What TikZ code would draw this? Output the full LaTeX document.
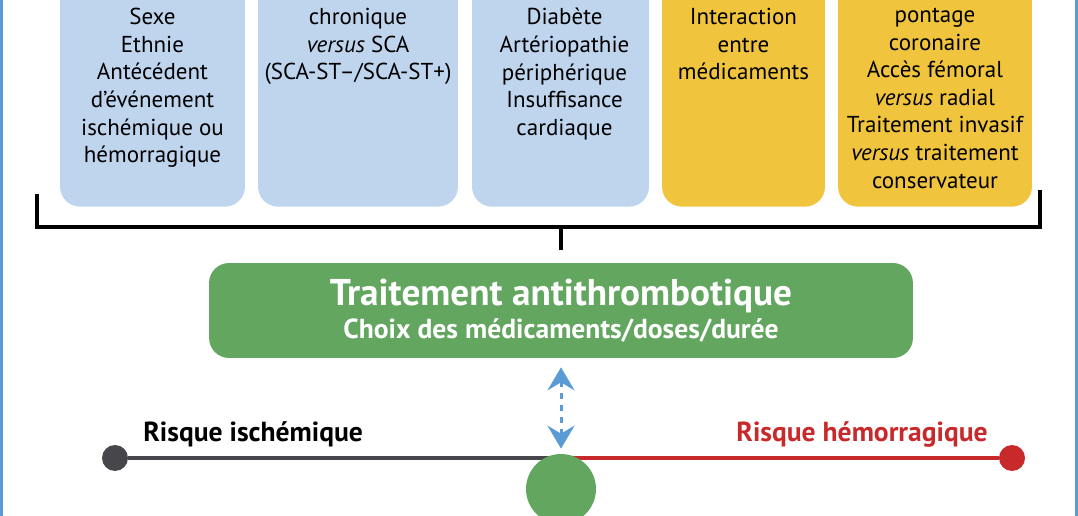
\documentclass[tikz,border=0pt]{standalone}
\usepackage{fontspec}
\setmainfont{PT Sans}
\usetikzlibrary{arrows.meta, positioning, calc, backgrounds}
\definecolor{FactBlue}{HTML}{BFD5EE}
\definecolor{FactGold}{HTML}{F0C43C}
\definecolor{TreatGreen}{HTML}{62A65F}
\definecolor{RiskRed}{HTML}{C8292B}
\definecolor{RiskGray}{HTML}{46464B}
\definecolor{FrameBlue}{HTML}{5B9BD5}

\begin{document}
\begin{tikzpicture}[x=0.02cm, y=-0.02cm,
  factor/.style={rounded corners=0.4cm, minimum height=5.4cm, anchor=south, inner sep=0pt},
  factortext/.style={anchor=north, align=center, inner sep=0pt, font=\fontsize{13.1}{15.7}\selectfont},
  bracket/.style={black, line width=0.07cm},
  riskdot/.style={circle, minimum size=0.52cm, inner sep=0pt},
  risklabel/.style={font=\fontsize{15.7}{18}\selectfont\bfseries, inner sep=0pt}]

  % --- GEOMETRIC VARIABLES ---
  \def\BoxBottom{207}
  \def\TextTop{8}
  \def\RiskY{458}

  \clip (0,0) rectangle (1078,516);
  % Outer frame (only its sides show)
  \draw[FrameBlue, line width=0.06cm] (1.5,-20) rectangle (1076.5,540);
  \coordinate (texttop) at (0,\TextTop);

  % =====================================================================
  % 1. FACTOR BOXES
  % =====================================================================
  \node[factor, fill=FactBlue, minimum width=3.7cm] (patient) at (152.5,\BoxBottom) {};
  \node[factor, fill=FactBlue, minimum width=4cm] (disease) at (358,\BoxBottom) {};
  \node[factor, fill=FactBlue, minimum width=3.54cm] (comorb) at (560.5,\BoxBottom) {};
  \node[factor, fill=FactGold, minimum width=3.26cm] (drugs) at (743.5,\BoxBottom) {};
  \node[factor, fill=FactGold, minimum width=3.88cm] (proc) at (935,\BoxBottom) {};

  \node[factortext] (patienttext) at (patient.north |- texttop)
    {Sexe\\Ethnie\\Antécédent\\d’événement\\ischémique ou\\hémorragique};
  \node[factortext] (diseasetext) at (disease.north |- texttop)
    {chronique\\\textit{versus} SCA\\(SCA-ST–/SCA-ST+)};
  \node[factortext] (comorbtext) at ([xshift=0.08cm]comorb.north |- texttop)
    {Diabète\\Artériopathie\\périphérique\\Insuffisance\\cardiaque};
  \node[factortext] (drugstext) at (drugs.north |- texttop)
    {Interaction\\entre\\médicaments};
  \node[factortext] (proctext) at (proc.north |- texttop)
    {pontage\\coronaire\\Accès fémoral\\\textit{versus} radial\\Traitement invasif\\\textit{versus} traitement\\conservateur};

  % Bracket gathering the factors
  \draw[bracket] (37,194) -- (37,227) -- (1040,227) -- (1040,190);
  \coordinate (bracemid) at (561,227);

  % =====================================================================
  % 2. TREATMENT
  % =====================================================================
  \node[fill=TreatGreen, text=white, rounded corners=0.4cm, minimum width=14.08cm,
        minimum height=1.9cm, align=center, font=\bfseries\fontsize{15.7}{18.5}\selectfont]
    (treat) at (561,310.5)
    {{\fontsize{21.2}{24}\selectfont Traitement antithrombotique}\\Choix des médicaments/doses/durée};
  \draw[bracket, shorten >=0.26cm] (bracemid) -- (treat.north);

  % =====================================================================
  % 3. RISK BALANCE
  % =====================================================================
  \node[riskdot, fill=RiskGray] (isch) at (115,\RiskY) {};
  \node[riskdot, fill=RiskRed] (hemo) at (1012,\RiskY) {};
  \node[circle, fill=TreatGreen, minimum size=1.4cm, inner sep=0pt] (pivot) at (561,489) {};
  \coordinate (balance) at (pivot |- isch);
  \begin{pgfonlayer}{background}
    \draw[RiskGray, line width=0.08cm] (isch) -- (balance);
    \draw[RiskRed, line width=0.08cm] (balance) -- (hemo);
  \end{pgfonlayer}

  \node[risklabel, anchor=base west] (ischlabel) at (143,441) {Risque ischémique};
  \node[risklabel, anchor=base east, text=RiskRed] (hemolabel) at (988,441) {Risque hémorragique};

  % Two-way arrow between treatment and balance
  \draw[FrameBlue, line width=0.06cm, dash pattern=on 0.12cm off 0.12cm,
        shorten <=0.18cm, shorten >=0.1cm,
        {Stealth[length=0.46cm, width=0.54cm, inset=0.16cm]}-{Stealth[length=0.46cm, width=0.54cm, inset=0.16cm]}]
    (treat.south) -- (pivot.north);

\end{tikzpicture}
\end{document}
